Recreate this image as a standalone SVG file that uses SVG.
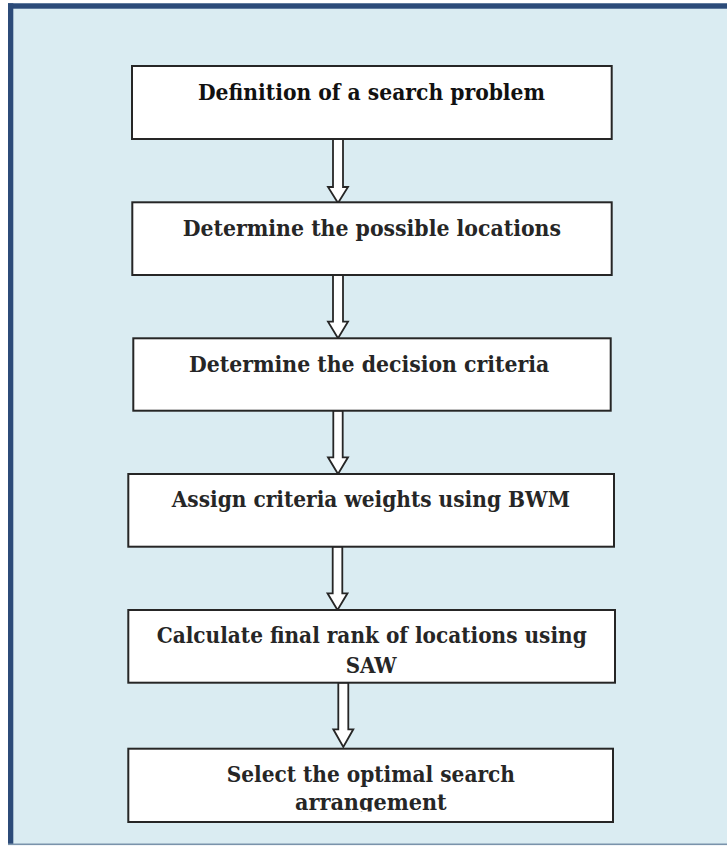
<svg xmlns="http://www.w3.org/2000/svg" width="727" height="846" viewBox="0 0 727 846">
<style>
.box{fill:#ffffff;stroke:#262626;stroke-width:2}
.arr{fill:#ffffff;stroke:#262626;stroke-width:1.8;stroke-linejoin:miter}
.t{font-family:"DejaVu Serif","Liberation Serif",serif;font-stretch:condensed;font-weight:bold;font-size:23px;fill:#262626}
</style>
<defs>
<clipPath id="clip6"><rect x="129" y="749" width="483" height="62.5"/></clipPath>
</defs>
<rect x="0" y="0" width="727" height="846" fill="#ffffff"/>
<g id="frame">
<rect x="8" y="3.3" width="719" height="841" fill="#daecf2"/>
<rect x="8" y="3.3" width="719" height="5.4" fill="#2c4b79"/>
<rect x="8" y="3.3" width="5.3" height="841" fill="#2c4b79"/>
<rect x="8" y="843.5" width="719" height="1.6" fill="#7a93ab"/>
</g>
<g id="connectors">
<polygon class="arr" points="333,139 343,139 343,187 348,187 338,203 328,187 333,187"/>
<polygon class="arr" points="333,275 343,275 343,321.7 348,321.7 338,338.3 328,321.7 333,321.7"/>
<polygon class="arr" points="333.3,410.7 342.7,410.7 342.7,457.3 348,457.3 338,474 328,457.3 333.3,457.3"/>
<polygon class="arr" points="332.7,546.7 342.3,546.7 342.3,593.3 347.5,593.3 337.5,610 327.5,593.3 332.7,593.3"/>
<polygon class="arr" points="338.3,682.7 348.3,682.7 348.3,729.3 353.3,729.3 343.3,747 333.3,729.3 338.3,729.3"/>
</g>
<g id="node1">
<rect class="box" x="132" y="66" width="479.7" height="73"/>
<text class="t" x="198" y="100" textLength="347" lengthAdjust="spacingAndGlyphs" style="fill:#111111">Definition of a search problem</text>
</g>
<g id="node2">
<rect class="box" x="132.3" y="202.3" width="479.4" height="72.7"/>
<text class="t" x="182.7" y="235.7" textLength="378.3" lengthAdjust="spacingAndGlyphs">Determine the possible locations</text>
</g>
<g id="node3">
<rect class="box" x="133.3" y="338.3" width="477.4" height="72.4"/>
<text class="t" x="189" y="371.7" textLength="360.3" lengthAdjust="spacingAndGlyphs">Determine the decision criteria</text>
</g>
<g id="node4">
<rect class="box" x="128.3" y="474" width="485.7" height="72.7"/>
<text class="t" x="171.7" y="507.3" textLength="398.3" lengthAdjust="spacingAndGlyphs">Assign criteria weights using BWM</text>
</g>
<g id="node5">
<rect class="box" x="128.3" y="610" width="486.7" height="72.7"/>
<text class="t" x="156.7" y="643.3" textLength="430" lengthAdjust="spacingAndGlyphs">Calculate final rank of locations using</text>
<text class="t" x="345.7" y="672.7" textLength="51" lengthAdjust="spacingAndGlyphs">SAW</text>
</g>
<g id="node6">
<rect class="box" x="128.3" y="748.7" width="484.7" height="73.3"/>
<g clip-path="url(#clip6)">
<text class="t" x="226.7" y="781.7" textLength="288.3" lengthAdjust="spacingAndGlyphs">Select the optimal search</text>
<text class="t" x="295" y="810" textLength="151.7" lengthAdjust="spacingAndGlyphs">arrangement</text>
</g>
</g>
</svg>
